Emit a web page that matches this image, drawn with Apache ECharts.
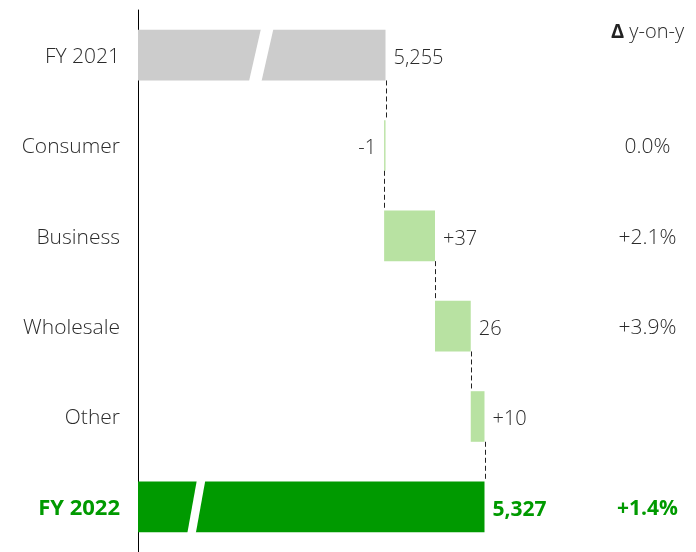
<!DOCTYPE html>
<html>
<head>
<meta charset="utf-8">
<script src="https://cdn.jsdelivr.net/npm/echarts@6/dist/echarts.min.js"></script>
<style>
  html, body { margin: 0; padding: 0; background: #fff; }
  #chart { width: 696px; height: 552px; }
</style>
</head>
<body>
<div id="chart"></div>
<script>
// waterfall: FY 2021 -> FY 2022 revenue bridge
var categories = ['FY 2021', 'Consumer', 'Business', 'Wholesale', 'Other', 'FY 2022'];
var values = [5255, -1, 37, 26, 10, 5327];          // totals first/last, deltas between
var valueLabels = ['5,255', '-1', '+37', '26', '+10', '5,327'];
var yoyLabels = ['', '0.0%', '+2.1%', '+3.9%', '', '+1.4%'];
var breakValues = [5164.6, null, null, null, null, 5117.4]; // where the broken axis is marked

var font = "'Open Sans', sans-serif";
var textColor = '#2b2b2b';
var green = '#009a00';

// build stack: invisible base + visible piece
var baseData = [], barData = [], ends = [];
var run = 0;
values.forEach(function (v, i) {
    var isTotal = i === 0 || i === values.length - 1;
    if (isTotal) {
        run = v;
        baseData.push(0);
        barData.push({
            value: v,
            itemStyle: { color: i === 0 ? '#cccccc' : green },
            label: i === 0 ? {} : { color: green, fontWeight: 'bold', fontSize: 21 }
        });
    } else {
        var start = run;
        run = run + v;
        baseData.push(Math.min(start, run));
        barData.push({
            value: Math.abs(v),
            itemStyle: { color: '#b8e2a2' },
            label: v < 0 ? { position: 'left' } : {}
        });
    }
    ends.push(run);
});

var connectorData = ends.slice(0, -1).map(function (e, i) { return [e, i]; });
var breakData = [];
breakValues.forEach(function (b, i) { if (b !== null) breakData.push([b, i]); });

var chart = echarts.init(document.getElementById('chart'));
chart.setOption({
    animation: false,
    title: {
        text: '{d|Δ} y-on-y',
        left: 606,
        top: 17,
        textStyle: {
            fontFamily: font, fontSize: 20, fontWeight: 300, color: textColor,
            rich: { d: { fontFamily: font, fontSize: 20, fontWeight: 'bold', color: '#222' } }
        }
    },
    grid: { left: 138, right: 145.5, top: 10, bottom: 0 },
    xAxis: {
        type: 'value',
        min: 5075,
        max: 5375,
        axisLine: { show: false },
        axisTick: { show: false },
        axisLabel: { show: false },
        splitLine: { show: false }
    },
    yAxis: [{
        type: 'category',
        inverse: true,
        data: categories,
        axisLine: { lineStyle: { color: '#000', width: 1 } },
        axisTick: { show: false },
        axisLabel: {
            margin: 18,
            fontFamily: font,
            fontSize: 21,
            fontWeight: 300,
            color: textColor,
            padding: [4, 0, 0, 0],
            formatter: function (v, i) {
                return i === categories.length - 1 ? '{g|' + v + '}' : v;
            },
            rich: { g: { fontFamily: font, fontSize: 22, fontWeight: 'bold', color: green } }
        }
    }, {
        type: 'category',
        inverse: true,
        position: 'right',
        data: yoyLabels,
        axisLine: { show: false },
        axisTick: { show: false },
        axisLabel: {
            margin: 97,
            align: 'center',
            fontFamily: font,
            fontSize: 21,
            fontWeight: 300,
            color: textColor,
            padding: [4, 0, 0, 0],
            formatter: function (v, i) {
                return i === yoyLabels.length - 1 ? '{g|' + v + '}' : v;
            },
            rich: { g: { fontFamily: font, fontSize: 21, fontWeight: 'bold', color: green } }
        }
    }],
    series: [{
        type: 'bar',
        stack: 'w',
        data: baseData,
        barWidth: '56%',
        itemStyle: { color: 'transparent' },
        silent: true
    }, {
        type: 'bar',
        stack: 'w',
        data: barData,
        barWidth: '56%',
        label: {
            show: true,
            position: 'right',
            distance: 8,
            offset: [0, 3],
            fontFamily: font,
            fontSize: 20,
            fontWeight: 300,
            color: textColor,
            formatter: function (p) { return valueLabels[p.dataIndex]; }
        }
    }, {
        type: 'custom',
        z: 3,
        data: connectorData,
        encode: { x: 0, y: 1 },
        renderItem: function (params, api) {
            var p = api.coord([api.value(0), api.value(1)]);
            var band = api.size([0, 1])[1];
            var h = band * 0.56 / 2;
            return {
                type: 'line',
                shape: { x1: Math.round(p[0]) + 0.5, y1: p[1] + h, x2: Math.round(p[0]) + 0.5, y2: p[1] + band - h },
                style: { stroke: '#222', lineWidth: 1, lineDash: [5, 3] }
            };
        }
    }, {
        type: 'custom',
        z: 4,
        data: breakData,
        encode: { x: 0, y: 1 },
        renderItem: function (params, api) {
            var p = api.coord([api.value(0), api.value(1)]);
            var band = api.size([0, 1])[1];
            var h = band * 0.56 / 2 + 1;
            var first = api.value(1) === 0;
            var w = first ? 12.5 : 8.5, s = first ? 12 : 9.5;
            var x = p[0], t = p[1] - h, b = p[1] + h;
            return {
                type: 'polygon',
                shape: { points: [[x - w / 2 + s / 2, t], [x + w / 2 + s / 2, t], [x + w / 2 - s / 2, b], [x - w / 2 - s / 2, b]] },
                style: { fill: '#fff' }
            };
        }
    }]
});
</script>
</body>
</html>
